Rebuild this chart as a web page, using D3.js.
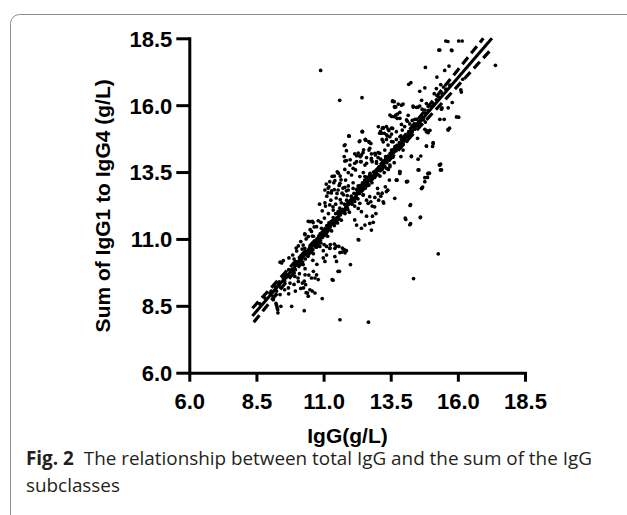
<!DOCTYPE html>
<html>
<head>
<meta charset="utf-8">
<script src="https://cdn.jsdelivr.net/npm/d3@7"></script>
<style>
  html, body { margin: 0; padding: 0; background: #fff; }
  svg { display: block; }
</style>
</head>
<body>
<svg id="chart" width="627" height="515"></svg>
<script>
// ---------- data ----------
const xTicks = [6.0, 8.5, 11.0, 13.5, 16.0, 18.5];
const yTicks = [6.0, 8.5, 11.0, 13.5, 16.0, 18.5];
const xTitle = "IgG(g/L)";
const yTitle = "Sum of IgG1 to IgG4 (g/L)";
const captionBold = "Fig. 2";
const captionLine1 = "The relationship between total IgG and the sum of the IgG";
const captionLine2 = "subclasses";

// regression line (clipped at the axis top)
const fitX = [8.35, 17.27];
const fitY = [8.12, 18.50];
// 95% confidence bands
const upperBandX = [8.35, 9.5, 10.5, 11.5, 12.5, 13.5, 14.5, 15.5, 16.95];
const upperBandY = [8.41, 9.67, 10.76, 11.88, 13.03, 14.22, 15.46, 16.70, 18.50];
const lowerBandX = [8.4, 9.5, 10.5, 11.5, 12.5, 13.5, 14.5, 15.5, 17.3];
const lowerBandY = [7.89, 9.25, 10.48, 11.70, 12.87, 14.00, 15.10, 16.18, 18.15];

// individual samples: [IgG, sum of IgG1..IgG4]
const samples = [
 [10.89,17.30],[11.60,16.18],[12.43,16.28],[13.57,16.16],[13.69,15.94],[13.90,16.00],[13.84,15.73],[13.53,15.58],
 [13.69,15.63],[13.74,15.51],[13.90,15.28],[11.95,14.84],[11.77,14.49],[12.45,15.01],[12.33,14.64],[12.57,14.69],
 [12.70,14.61],[12.72,14.39],[13.22,15.16],[13.40,15.11],[13.57,15.13],[13.16,14.95],[13.34,14.89],[13.47,14.82],
 [13.22,14.63],[13.71,15.01],[13.84,14.82],[13.40,14.51],[13.59,14.63],[13.71,14.39],[13.53,14.32],[13.28,14.32],
 [13.09,14.20],[12.91,14.20],[12.41,14.14],[12.23,14.11],[12.60,14.04],[12.78,14.01],[13.03,14.04],[13.96,14.64],
 [13.96,14.32],
 [15.55,18.40],[16.16,18.40],[15.29,18.06],[15.76,18.06],[17.40,17.49],[14.79,17.41],[15.67,17.46],[15.51,17.30],
 [15.22,17.05],[14.17,16.78],[14.25,16.84],[14.58,16.52],[14.77,16.65],[15.36,16.77],[15.20,16.62],[15.46,16.68],
 [15.12,16.43],[16.13,16.49],[15.95,15.56],[15.64,15.10],[15.33,15.47],[15.49,15.47],[15.79,16.10],[15.64,15.90],
 [15.41,15.90],[14.65,16.18],[14.83,16.06],[14.52,15.93],[14.67,15.85],[14.34,15.93],[14.15,15.62],[14.30,15.43],
 [14.46,15.47],[14.79,15.37],[14.96,15.06],[14.77,15.10],[14.12,15.40],[14.58,15.52],[16.11,16.57],[16.18,16.97],
 [14.83,15.01],[14.89,14.97],[15.64,15.07],[14.50,14.76],[15.08,14.57],[14.83,14.47],[14.27,14.10],[14.52,13.98],
 [13.88,14.08],[13.84,13.52],[13.71,13.20],[14.09,13.14],[14.55,13.58],[14.77,13.29],[14.89,13.44],[15.31,13.77],
 [15.35,13.58],[14.65,12.89],[14.22,12.25],[14.06,11.73],[14.21,11.53],[14.60,11.80],[15.27,10.44],[14.35,9.52],
 [13.63,16.13],[13.78,16.04],[13.96,16.04],[14.33,15.97],[14.46,15.92],[14.58,15.97],[13.65,15.92],[13.47,15.63],
 [13.63,15.57],[13.75,15.67],[13.84,15.51],[14.09,15.45],[14.21,15.30],[14.40,15.47],[14.77,15.82],[15.39,15.85],
 [14.83,15.05],[15.08,14.60],[14.83,14.47],[11.94,14.85],[12.44,15.01],[12.35,14.67],[12.56,14.72],[12.69,14.64],
 [12.76,14.57],[13.22,15.14],[13.34,15.20],[13.43,15.05],[13.53,15.14],[13.09,14.95],[13.26,14.95],[13.38,14.85],
 [13.53,14.92],[13.18,14.72],[13.34,14.72],[13.53,14.64],[13.71,14.72],[13.88,14.85],[13.93,15.07],[14.02,15.20],
 [14.17,15.01],[11.85,14.30],[12.16,14.18],[12.35,14.10],[12.47,14.23],[12.69,14.32],[12.78,14.18],[12.93,14.14],
 [13.03,14.23],[12.23,13.89],[12.39,13.89],[12.60,13.83],[12.78,13.95],[12.97,13.89],[13.13,13.98],[13.31,14.08],
 [13.53,14.20],[13.65,14.33],[13.84,14.45],[13.96,14.55],[11.79,13.91],[11.98,13.76],[12.10,13.64],[14.27,14.08],
 [14.62,14.10],[14.52,13.58],[14.89,13.45],[14.77,13.14],[14.87,13.30],[15.33,13.76],[15.39,13.58],[13.71,13.20],
 [14.09,13.14],[13.38,12.83],[14.65,12.89],[11.79,12.93],[11.92,12.83],[12.10,12.89],[12.29,12.98],[12.47,13.08],
 [12.35,13.33],[12.54,13.33],[12.72,13.39],[12.97,13.45],[13.13,13.58],[13.34,13.64],[13.47,13.70],[13.63,13.85],
 [12.47,12.64],[12.72,12.58],[12.91,12.55],[13.03,12.70],
 [11.85,13.93],[12.16,13.83],[12.39,13.89],[12.54,13.76],[12.81,13.89],[12.97,13.83],[13.18,13.85],[13.34,13.89],
 [13.47,13.76],[11.51,13.51],[11.40,13.35],[11.79,13.60],[11.92,13.48],[12.04,13.39],[12.19,13.58],[12.48,13.48],
 [12.60,13.30],[12.72,13.39],[12.91,13.33],[13.10,13.35],[13.26,13.48],[13.41,13.60],[13.74,13.20],[13.84,13.45],
 [11.23,13.14],[11.42,13.18],[11.61,13.08],[11.05,12.83],[11.17,12.73],[11.30,12.80],[11.54,12.83],[11.69,12.71],
 [11.85,12.80],[11.92,12.98],[12.10,13.10],[12.35,12.95],[12.51,13.08],[12.69,13.02],[13.01,12.89],[13.34,12.77],
 [13.22,12.39],[13.13,12.60],[12.60,12.45],[12.76,12.39],[12.29,12.14],[12.41,12.02],[12.35,12.33],[12.04,12.46],
 [12.16,12.23],[11.07,12.23],[11.23,12.27],[11.36,12.08],[11.54,12.02],[10.49,11.65],[10.61,11.61],[10.80,11.68],
 [10.74,11.46],[10.92,11.40],[10.30,11.19],[10.43,11.09],[10.58,11.11],[10.06,10.74],[10.24,10.77],[10.30,10.65],
 [10.45,10.59],[10.61,10.84],[10.74,10.69],[11.23,10.65],[11.42,10.65],[11.61,10.49],[11.85,10.56],[11.11,10.40],
 [11.42,10.34],[12.16,11.71],[12.23,11.52],[12.41,11.40],[12.54,11.52],[12.72,11.58],[12.78,11.33],[12.31,10.96],
 [12.66,12.33],[12.81,12.23],[13.18,12.71],[13.65,12.52],[13.84,13.52],
 [10.31,11.16],[10.55,11.28],[10.62,11.10],[11.40,10.81],[11.57,10.72],[11.77,10.60],[11.69,10.51],[11.11,10.72],
 [11.24,10.66],[10.86,10.72],[10.99,10.56],[10.74,10.91],[10.62,10.79],[10.99,10.29],[11.05,10.16],[11.54,9.79],
 [11.32,9.48],[10.62,9.79],[10.74,9.66],[10.68,9.54],[10.80,9.48],[10.55,9.54],[10.31,9.66],[10.21,9.35],
 [10.33,9.29],[10.49,9.10],[10.40,8.98],[10.06,9.41],[9.93,9.60],[9.87,9.79],[9.69,9.17],[9.75,9.35],
 [9.44,10.10],[9.50,10.19],[10.24,10.04],[10.31,9.89],[10.95,8.77],[9.41,8.48],[9.29,8.36],[9.25,8.52],
 [9.81,8.48],[10.28,8.32],[11.61,7.98],[12.67,7.89],[10.68,8.98],[9.13,8.73],[11.48,10.16],[9.23,8.59],
 [9.27,8.43],[9.30,8.24],[9.38,8.92],[9.38,10.13],[9.71,10.29],[9.98,10.66],[9.65,9.63],[9.90,9.73],
 [10.05,9.54],[10.28,9.42],[10.25,9.17],[10.35,8.99],[10.43,8.86],[10.58,9.05],[9.23,8.92],[12.00,10.04],
 [11.59,9.79],[11.35,9.46],[12.29,10.98],[14.04,11.78],[14.24,11.57],[14.61,11.82],[14.24,12.28],[14.69,12.94],
 [14.94,13.46],[15.36,13.80],[14.13,13.15],[13.39,12.82],[13.24,12.34],[12.82,11.85],[12.85,11.62],[16.03,15.55],
 [15.69,15.14],[15.06,14.46],[14.91,15.02],[15.78,18.04],[15.33,18.06],[16.03,18.40],[15.63,18.38],
 [10.43,11.66],[10.58,11.66],[11.17,12.90],[11.29,12.72],[11.40,12.84],[11.47,12.53],[11.62,12.47],[11.74,12.65],
 [11.32,13.34],[11.55,13.46],[11.65,13.21],[11.80,14.52],[11.77,14.08],[11.99,13.96],[12.29,14.21],[12.37,14.08],
 [12.49,14.33],[12.55,14.71],[12.44,15.02],[13.04,15.20],[13.19,15.14],[13.12,15.02],[13.57,16.14],[13.64,15.95],
 [11.02,10.79],[11.25,10.79],[11.47,10.73],[11.70,10.66],[11.80,10.48],
 [8.63,8.57],[8.82,8.79],[9.00,8.98],[9.19,9.10],[9.31,9.29],[9.50,9.54],[9.62,9.66],[9.81,9.85],
 [10.00,10.04],[10.12,10.23],[10.24,10.41],[10.37,10.54],[10.49,10.69],[10.68,10.91],[10.86,11.06],[11.05,11.22],
 [9.05,9.05],[9.12,8.85],[9.20,9.22],[9.25,9.05],[9.35,9.40],[9.40,9.20],[9.50,9.60],[9.55,9.42],
 [9.60,9.55],[9.70,9.85],[9.75,9.60],[9.80,9.78],[9.90,10.05],[9.95,9.85],[10.02,10.15],[10.10,10.30],
 [10.12,10.05],[10.18,10.22],[10.22,10.35],[10.30,10.45],[10.32,10.25],[10.38,10.50],[10.42,10.35],[10.45,10.60],
 [10.50,10.70],[10.52,10.50],[10.58,10.78],[10.60,10.60],[10.62,10.45],[10.65,10.85],[10.70,10.70],[10.75,11.00],
 [10.78,10.80],[10.82,11.10],[10.85,10.95],[10.88,11.20],[10.90,10.85],[10.95,11.05],[11.00,11.30],[11.02,11.12],
 [11.06,11.40],[11.10,11.20],[11.12,11.50],[11.15,11.10],[11.18,11.35],[11.20,11.60],[11.25,11.45],[11.28,11.65],
 [11.30,11.30],[11.33,11.55],[11.36,11.80],[11.40,11.50],[11.42,11.70],[11.45,11.95],[11.50,11.80],[11.52,11.60],
 [11.55,12.00],[11.58,11.75],[11.60,12.15],[11.63,11.90],[11.66,11.70],[11.70,12.05],[11.75,12.10],[11.78,12.30],
 [11.80,11.95],[11.83,12.20],[11.86,12.45],[11.90,12.10],[11.93,12.30],[11.96,12.00],[12.00,12.40],[12.03,12.60],
 [12.06,12.30],[12.10,12.50],[12.13,12.70],[12.16,12.40],[12.20,12.55],[12.23,12.85],[12.25,12.70],[12.28,12.50],
 [12.30,12.90],[12.34,12.70],[12.38,13.00],[12.42,12.80],[12.45,13.10],[12.48,12.65],[12.50,13.00],[12.53,13.20],
 [12.56,12.90],[12.60,13.10],[12.63,13.30],[12.66,13.00],[12.70,13.20],[12.73,13.45],[12.75,13.30],[12.80,13.10],
 [12.83,13.35],[12.86,13.50],[12.90,13.30],[12.95,13.55],[12.98,13.40],[13.00,13.60],[13.03,13.40],[13.07,13.70],
 [13.10,13.55],[13.14,13.80],[13.18,13.60],[13.22,13.90],[13.25,13.85],[13.28,13.70],[13.32,14.00],[13.36,13.85],
 [13.40,14.10],[13.44,13.95],[13.48,14.20],[13.50,14.10],[13.54,14.30],[13.58,14.05],[13.62,14.25],[13.66,14.45],
 [13.70,14.30],[13.74,14.50],[13.78,14.40],[13.82,14.60],[13.86,14.45],[13.90,14.70],[13.95,14.55],[14.00,14.75],
 [14.05,14.80],[14.10,14.65],[14.15,14.95],[14.20,14.85],[14.25,15.05],[14.30,15.00],[14.35,15.20],[14.40,15.10],
 [14.45,15.30],[14.50,15.25],[14.55,15.40],[14.60,15.30],[14.65,15.55],[14.72,15.45],[14.80,15.70],[14.90,15.80],
 [15.00,15.95],[15.10,16.05],[15.20,16.20],[15.30,16.30],[15.40,16.45],[15.55,16.60],[15.70,16.75],
 [10.95,12.05],[11.05,12.35],[11.12,12.60],[11.20,12.95],[11.27,12.45],[11.35,12.20],[11.18,11.95],[11.45,12.30],
 [11.50,12.70],[11.58,13.00],[11.66,12.35],[11.72,12.90],[11.82,13.20],[11.88,12.62],[11.03,11.78],[10.90,11.62],
 [11.10,13.05],[11.38,13.10],[11.62,13.35],[10.85,12.30],
 [9.85,10.40],[10.00,10.55],[10.15,10.90],[10.35,11.00],[10.50,11.35],[10.20,10.62],[9.90,10.25],[10.65,11.45],
 [9.55,9.10],[9.70,8.95],[9.90,9.30],[10.10,9.70],[10.45,9.65],[10.60,10.20],[10.75,10.05],[10.15,9.15],[9.95,9.05],
 [12.90,12.20],[13.05,12.45],[13.30,12.95],[12.60,11.85],[13.45,13.20],[12.95,11.95]
];

// ---------- layout ----------
const x = d3.scaleLinear().domain([6, 18.5]).range([189.3, 525]);
const y = d3.scaleLinear().domain([6, 18.5]).range([372.7, 38.3]);

const svg = d3.select("#chart");

// rounded frame (only the top-left corner is visible)
svg.append("rect")
  .attr("x", 10.5).attr("y", 14.5)
  .attr("width", 700).attr("height", 600)
  .attr("rx", 9).attr("ry", 9)
  .attr("fill", "none").attr("stroke", "#8c8c8c").attr("stroke-width", 1);

const tickFont = "'Liberation Sans', Arial, Helvetica, sans-serif";

// axes
const xAxis = svg.append("g")
  .attr("transform", `translate(0,${y(6)})`)
  .call(d3.axisBottom(x).tickValues(xTicks).tickFormat(d3.format(".1f")).tickSize(9).tickSizeOuter(0));
const yAxis = svg.append("g")
  .attr("transform", `translate(${x(6)},0)`)
  .call(d3.axisLeft(y).tickValues(yTicks).tickFormat(d3.format(".1f")).tickSize(13).tickSizeOuter(0));

[xAxis, yAxis].forEach(g => {
  g.select(".domain").attr("stroke", "#000").attr("stroke-width", 3).attr("stroke-linecap", "square");
  g.selectAll(".tick line").attr("stroke", "#000").attr("stroke-width", 3);
  g.selectAll(".tick text")
    .attr("fill", "#000")
    .style("font-family", tickFont)
    .style("font-weight", "bold")
    .style("font-size", "22px");
});
xAxis.selectAll(".tick text").attr("y", 36).attr("dy", null);
yAxis.selectAll(".tick text").attr("x", -17).attr("dy", "0.36em");

// axis titles
svg.append("text")
  .attr("x", 347.5).attr("y", 443)
  .attr("text-anchor", "middle")
  .style("font-family", tickFont).style("font-weight", "bold").style("font-size", "21px")
  .text(xTitle);
svg.append("text")
  .attr("transform", `translate(110,${205.8}) rotate(-90)`)
  .attr("text-anchor", "middle")
  .style("font-family", tickFont).style("font-weight", "bold").style("font-size", "21px")
  .text(yTitle);

// clip to plotting area
svg.append("clipPath").attr("id", "plotclip")
  .append("rect").attr("x", x(6)).attr("y", y(18.5) - 1)
  .attr("width", x(18.5) - x(6) + 10).attr("height", y(6) - y(18.5) + 1);

const plot = svg.append("g").attr("clip-path", "url(#plotclip)");

// points
plot.append("g").selectAll("circle")
  .data(samples)
  .join("circle")
  .attr("cx", d => x(d[0]))
  .attr("cy", d => y(d[1]))
  .attr("r", 1.85)
  .attr("fill", "#000");

// regression + confidence bands
const lineGen = d3.line().x(d => x(d[0])).y(d => y(d[1])).curve(d3.curveMonotoneX);
plot.append("path")
  .datum(fitX.map((v, i) => [v, fitY[i]]))
  .attr("d", lineGen)
  .attr("fill", "none").attr("stroke", "#000").attr("stroke-width", 3);
plot.append("path")
  .datum(upperBandX.map((v, i) => [v, upperBandY[i]]))
  .attr("d", lineGen)
  .attr("fill", "none").attr("stroke", "#000").attr("stroke-width", 3.2)
  .attr("stroke-dasharray", "9,5");
plot.append("path")
  .datum(lowerBandX.map((v, i) => [v, lowerBandY[i]]))
  .attr("d", lineGen)
  .attr("fill", "none").attr("stroke", "#000").attr("stroke-width", 3.2)
  .attr("stroke-dasharray", "9,5");

// caption
const capFont = "'Open Sans', 'Noto Sans', sans-serif";
const cap1 = svg.append("text")
  .attr("x", 26).attr("y", 465)
  .style("font-family", capFont).style("font-size", "16px").attr("fill", "#231f20");
cap1.append("tspan").style("font-weight", "bold").text(captionBold);
cap1.append("tspan").attr("dx", 10).text(captionLine1);
// fit caption width to the reference (about 556 px)
const w1 = cap1.node().getComputedTextLength();
const capSize = 16 * 556 / w1;
cap1.style("font-size", capSize + "px");
svg.append("text")
  .attr("x", 26).attr("y", 491.5)
  .style("font-family", capFont).style("font-size", capSize + "px").attr("fill", "#231f20")
  .text(captionLine2);
</script>
</body>
</html>
